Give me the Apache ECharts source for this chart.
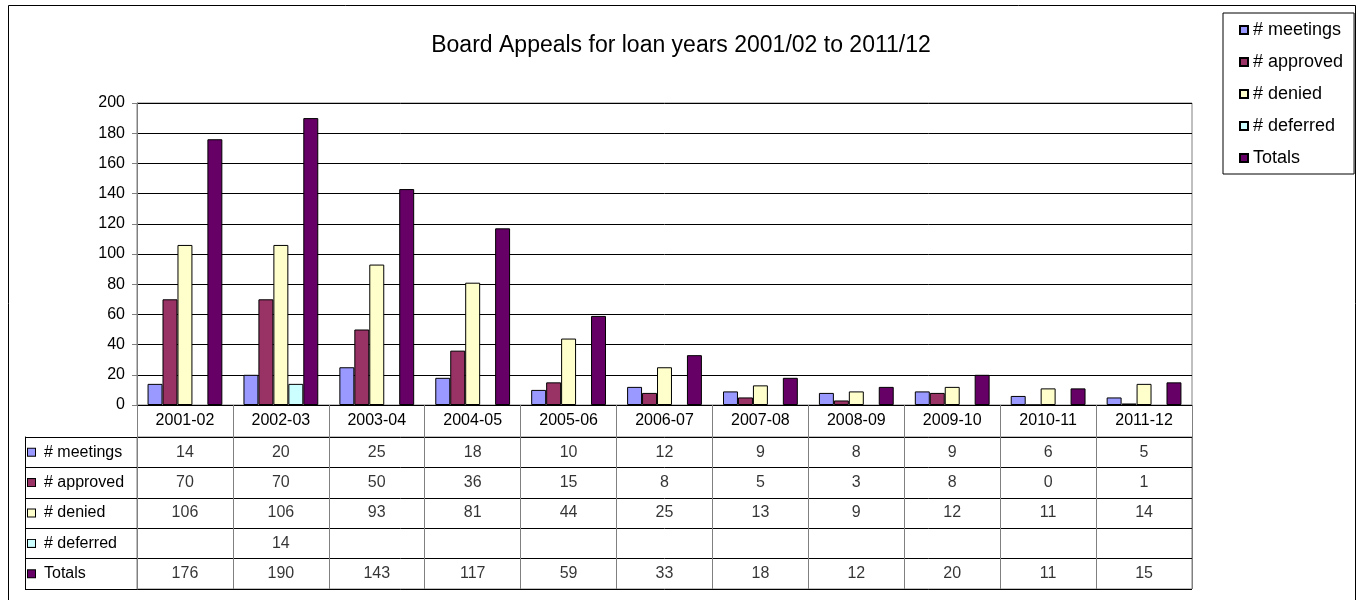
<!DOCTYPE html>
<html>
<head>
<meta charset="utf-8">
<style>
  html, body { margin: 0; padding: 0; background: #fff; }
  #chart-container { width: 1362px; height: 600px; }
</style>
<script src="https://cdn.jsdelivr.net/npm/echarts@6/dist/echarts.min.js"></script>
</head>
<body>
<div id="chart-container"></div>
<script>
var dom = document.getElementById("chart-container");
var myChart = echarts.init(dom, null, { renderer: "canvas" });

var FONT = 'Arial, "Liberation Sans", sans-serif';

// data
var years = ["2001-02", "2002-03", "2003-04", "2004-05", "2005-06", "2006-07",
             "2007-08", "2008-09", "2009-10", "2010-11", "2011-12"];
var seriesNames = ["# meetings", "# approved", "# denied", "# deferred", "Totals"];
var meetings = [14, 20, 25, 18, 10, 12, 9, 8, 9, 6, 5];
var approved = [70, 70, 50, 36, 15, 8, 5, 3, 8, 0, 1];
var denied = [106, 106, 93, 81, 44, 25, 13, 9, 12, 11, 14];
var deferred = [null, 14, null, null, null, null, null, null, null, null, null];
var totals = [176, 190, 143, 117, 59, 33, 18, 12, 20, 11, 15];
var yTicks = { min: 0, max: 200, step: 20 };

var colors = ["#9999FF", "#993366", "#FFFFCC", "#CCFFFF", "#660066"];
var allValues = [meetings, approved, denied, deferred, totals];

// bars
var barSeries = seriesNames.map(function (name, i) {
  return {
    name: name,
    type: "bar",
    xAxisIndex: 0,
    yAxisIndex: 0,
    data: allValues[i],
    barGap: "0%",
    barCategoryGap: "22%",
    itemStyle: { color: colors[i], borderColor: "#000", borderWidth: 1 },
  };
});

// data table cells: [column, row, value]
var cellData = [];
allValues.forEach(function (vals, r) {
  vals.forEach(function (v, c) {
    if (v !== null) cellData.push([c, r, v]);
  });
});

var rich = { s: { width: 9 } };
colors.forEach(function (c, i) {
  rich["i" + i] = { width: 7, height: 7, backgroundColor: c, borderColor: "#000", borderWidth: 1 };
  rich["t" + i] = { fontSize: 16, fontFamily: FONT, color: "#000" };
});

var option = {
  animation: false,
  textStyle: { fontFamily: FONT },
  graphic: [
    {
      type: "rect",
      shape: { x: 8.5, y: 5.5, width: 1347, height: 620 },
      style: { fill: "none", stroke: "#000", lineWidth: 1 },
      silent: true,
      z: -1,
    },
  ],
  title: {
    text: "Board Appeals for loan years 2001/02 to 2011/12",
    left: "center",
    top: 29,
    textStyle: { fontFamily: FONT, fontSize: 23, fontWeight: "normal", color: "#000" },
  },
  legend: {
    data: seriesNames,
    orient: "vertical",
    left: 1223,
    top: 13,
    icon: "rect",
    itemWidth: 8,
    itemHeight: 8,
    itemGap: 14,
    padding: [8, 11, 7, 16],
    borderColor: "#000",
    borderWidth: 1,
    backgroundColor: "#fff",
    textStyle: { fontFamily: FONT, fontSize: 18, color: "#000" },
  },
  grid: [
    { left: 137, top: 103, width: 1055, height: 302, show: true, borderColor: "#808080", borderWidth: 1 },
    { left: 137, top: 437, width: 1055, height: 152, show: true, borderColor: "#808080", borderWidth: 1 },
  ],
  xAxis: [
    {
      type: "category",
      gridIndex: 0,
      data: years,
      axisLine: { lineStyle: { color: "#000" } },
      axisTick: { show: true, length: 32, interval: 0, lineStyle: { color: "#808080" } },
      axisLabel: { interval: 0, margin: 8, fontSize: 16, fontFamily: FONT, color: "#000" },
    },
    {
      type: "category",
      gridIndex: 1,
      data: years,
      axisLine: { show: false },
      axisTick: { show: false },
      axisLabel: { show: false },
      splitLine: { show: true, interval: 0, lineStyle: { color: "#808080" } },
    },
  ],
  yAxis: [
    {
      type: "value",
      gridIndex: 0,
      min: yTicks.min,
      max: yTicks.max,
      interval: yTicks.step,
      axisLine: { show: true, lineStyle: { color: "#808080" } },
      axisTick: { show: true, length: 5, lineStyle: { color: "#808080" } },
      axisLabel: { margin: 12, fontSize: 16, fontFamily: FONT, color: "#000" },
      splitLine: { show: true, lineStyle: { color: "#000" } },
    },
    {
      type: "category",
      gridIndex: 1,
      position: "left",
      inverse: true,
      data: seriesNames,
      axisLine: { show: true, lineStyle: { color: "#808080" } },
      axisTick: { show: true, length: 112, interval: 0, lineStyle: { color: "#000" } },
      splitLine: { show: true, interval: 0, lineStyle: { color: "#000" } },
      axisLabel: {
        interval: 0,
        align: "left",
        margin: 109,
        formatter: function (value, idx) {
          return "{i" + idx + "|}{s|}{t" + idx + "|" + value + "}";
        },
        rich: rich,
      },
    },
    {
      type: "category",
      gridIndex: 1,
      position: "left",
      inverse: true,
      data: seriesNames,
      offset: 112,
      axisLine: { show: true, lineStyle: { color: "#000" } },
      axisTick: { show: false },
      axisLabel: { show: false },
    },
  ],
  series: barSeries.concat([
    {
      name: "table",
      type: "scatter",
      xAxisIndex: 1,
      yAxisIndex: 1,
      data: cellData,
      symbolSize: 1,
      itemStyle: { color: "rgba(0,0,0,0)" },
      label: {
        show: true,
        position: "inside",
        formatter: function (p) { return p.value[2]; },
        fontSize: 16,
        fontFamily: FONT,
        color: "#000",
      },
      silent: true,
    },
  ]),
};

if (option && typeof option === "object") {
  myChart.setOption(option);
}

window.addEventListener("resize", myChart.resize);
</script>
</body>
</html>
